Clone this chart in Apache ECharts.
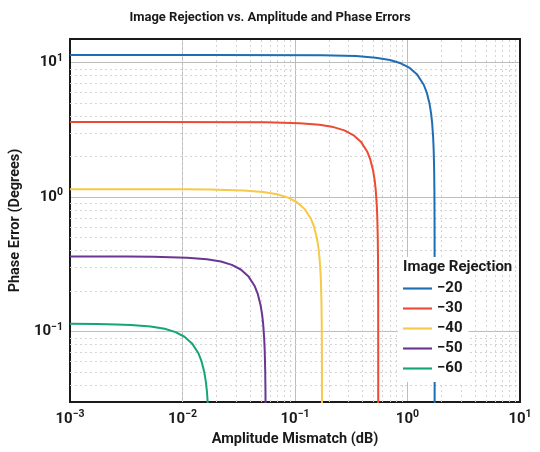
<!DOCTYPE html>
<html><head><meta charset="utf-8">
<script src="https://cdn.jsdelivr.net/npm/echarts@6/dist/echarts.min.js"></script>
<style>html,body{margin:0;padding:0;background:#fff}#c{width:540px;height:452px}</style>
</head><body><div id="c"></div>
<script>
const seriesNames = ['\u221220','\u221230','\u221240','\u221250','\u221260'];
const colors = ['#1f6db5','#ec4a33','#f7c948','#6b3593','#13a676'];

// [amplitude mismatch dB, phase error deg]
const curve20 = [[0.001,11.421],[0.01743,11.420],[0.1743,11.364],[0.3486,11.190],[0.5229,10.895],[0.6972,10.468],[0.8715,9.891],[1.0458,9.137],[1.2201,8.156],[1.3944,6.853],[1.4816,6.016],[1.5687,4.978],[1.6210,4.198],[1.6559,3.566],[1.6907,2.776],[1.7081,2.273],[1.7256,1.611],[1.7343,1.141],[1.7395,0.722],[1.7413,0.5107],[1.7428,0.1615],[1.7430,0.01615]];
const curve30 = [[0.001,3.6227],[0.005495,3.6225],[0.05495,3.6046],[0.1099,3.5495],[0.16486,3.4558],[0.21982,3.3203],[0.27477,3.1374],[0.32972,2.8982],[0.38468,2.5871],[0.43963,2.1736],[0.46711,1.9084],[0.49459,1.5791],[0.51106,1.3315],[0.52206,1.1312],[0.53303,0.8807],[0.53852,0.7209],[0.54402,0.5111],[0.54677,0.3618],[0.54842,0.2290],[0.54899,0.1620],[0.54949,0.05123],[0.54954,0.005123]];
const curve40 = [[0.001,1.1459],[0.0017374,1.1458],[0.005212,1.1454],[0.010424,1.1438],[0.017374,1.1401],[0.034748,1.1227],[0.052122,1.0931],[0.069496,1.0502],[0.08687,0.9924],[0.10424,0.9167],[0.12162,0.8183],[0.13899,0.6875],[0.14768,0.6036],[0.15637,0.4995],[0.16158,0.4211],[0.16505,0.3578],[0.16853,0.2786],[0.17027,0.2280],[0.17200,0.1617],[0.17287,0.1144],[0.17339,0.07244],[0.17357,0.05123],[0.17372,0.0162]];
const curve50 = [[0.001,0.36231],[0.001648,0.36221],[0.003296,0.36172],[0.0054934,0.36056],[0.010987,0.35506],[0.01648,0.34569],[0.021974,0.33213],[0.027467,0.31383],[0.03296,0.2899],[0.038454,0.25879],[0.043947,0.21743],[0.046694,0.19089],[0.049441,0.15796],[0.051089,0.13319],[0.052187,0.11315],[0.053286,0.08809],[0.053835,0.07211],[0.054385,0.05112],[0.05466,0.03619],[0.054824,0.02291],[0.054907,0.01146]];
const curve60 = [[0.001,0.1144],[0.0017372,0.11402],[0.0026058,0.1133],[0.0034744,0.11228],[0.0052116,0.10931],[0.0069488,0.10503],[0.008686,0.09924],[0.010423,0.09167],[0.01216,0.08184],[0.013898,0.06876],[0.014766,0.06036],[0.015635,0.04995],[0.016156,0.04212],[0.016503,0.03578],[0.016851,0.02786],[0.017025,0.0228],[0.017198,0.01617]];
const curves = [curve20, curve30, curve40, curve50, curve60];

const xTickExps = [-3,-2,-1,0,1];
const yTickExps = [-1,0,1];
const xMinorGrid = [0.002,0.003,0.004,0.005,0.006,0.007,0.008,0.009,0.02,0.03,0.04,0.05,0.06,0.07,0.08,0.09,0.2,0.3,0.4,0.5,0.6,0.7,0.8,0.9,2,3,4,5,6,7,8,9];
const yMinorGrid = [0.04,0.05,0.06,0.07,0.08,0.09,0.2,0.3,0.4,0.5,0.6,0.7,0.8,0.9,2,3,4,5,6,7,8,9];

const FONT = 'Roboto';
const TXT = '#1a1a1a';

function powLabel(exps){
  return function(v){
    const l = Math.log10(v), e = Math.round(l);
    if (Math.abs(l - e) > 1e-6 || exps.indexOf(e) < 0) return '';
    return '{b|10}{s|' + (e < 0 ? '\u2212' + (-e) : e) + '}';
  };
}
const rich = {
  b: {fontSize: 15, fontWeight: 'bold', color: TXT, fontFamily: FONT},
  s: {fontSize: 10.5, fontWeight: 'bold', color: TXT, fontFamily: FONT, padding: [0,0,9,0]}
};

const chart = echarts.init(document.getElementById('c'));
const series = curves.map((d, i) => ({
  name: seriesNames[i], type: 'line', data: d, symbol: 'none', smooth: false,
  lineStyle: {color: colors[i], width: 2}, itemStyle: {color: colors[i]}, z: 5
}));
series.push({
  type: 'line', data: [], silent: true, xAxisIndex: 0, yAxisIndex: 0,
  markLine: {
    silent: true, symbol: 'none', label: {show: false},
    lineStyle: {color: '#d4d4d4', type: [2, 3], width: 1},
    data: xMinorGrid.map(v => ({xAxis: v})).concat(yMinorGrid.map(v => ({yAxis: v})))
  }
});

chart.setOption({
  animation: false,
  title: {
    text: 'Image Rejection vs. Amplitude and Phase Errors', left: 'center', top: 6,
    textStyle: {fontSize: 13, fontWeight: 'bold', color: TXT, fontFamily: FONT}
  },
  grid: {left: 66, right: 20, top: 39, bottom: 50},
  legend: {
    data: seriesNames, orient: 'vertical', left: 398, top: 257,
    padding: [24, 6, 6, 5], backgroundColor: '#fff', itemWidth: 29, itemHeight: 14, itemGap: 5,
    icon: 'path://M0 0H30V2.2H0Z',
    textStyle: {fontSize: 15, fontWeight: 'bold', color: TXT, fontFamily: FONT}, z: 20
  },
  graphic: [{
    type: 'text', left: 403, top: 260, z: 100,
    style: {text: 'Image Rejection', fontSize: 15, fontWeight: 'bold', fill: TXT, fontFamily: FONT}
  }],
  xAxis: [{
    type: 'log', logBase: 10, min: 0.001, max: 10,
    name: 'Amplitude Mismatch (dB)', nameLocation: 'middle', nameGap: 25,
    nameTextStyle: {fontSize: 14.5, fontWeight: 'bold', color: TXT, fontFamily: FONT},
    axisLine: {show: true, onZero: false, lineStyle: {color: '#1a1a1a', width: 2}},
    axisTick: {show: false},
    axisLabel: {formatter: powLabel(xTickExps), rich: rich, margin: 7},
    splitLine: {show: true, lineStyle: {color: '#bdbdbd', width: 1}}
  }, {
    type: 'log', logBase: 10, min: 0.001, max: 10, position: 'top',
    axisLine: {show: true, onZero: false, lineStyle: {color: '#1a1a1a', width: 2}},
    axisTick: {show: false}, axisLabel: {show: false}, splitLine: {show: false}
  }],
  yAxis: [{
    type: 'log', logBase: 10, min: 0.03, max: 15,
    name: 'Phase Error (Degrees)', nameLocation: 'middle', nameGap: 37,
    nameTextStyle: {fontSize: 14.5, fontWeight: 'bold', color: TXT, fontFamily: FONT},
    axisLine: {show: true, onZero: false, lineStyle: {color: '#1a1a1a', width: 2}},
    axisTick: {show: false},
    axisLabel: {formatter: powLabel(yTickExps), rich: rich, margin: 7, showMinLabel: false, showMaxLabel: false},
    splitLine: {show: true, lineStyle: {color: '#bdbdbd', width: 1}}
  }, {
    type: 'log', logBase: 10, min: 0.03, max: 15, position: 'right',
    axisLine: {show: true, onZero: false, lineStyle: {color: '#1a1a1a', width: 2}},
    axisTick: {show: false}, axisLabel: {show: false}, splitLine: {show: false}
  }],
  series: series
});
</script></body></html>
